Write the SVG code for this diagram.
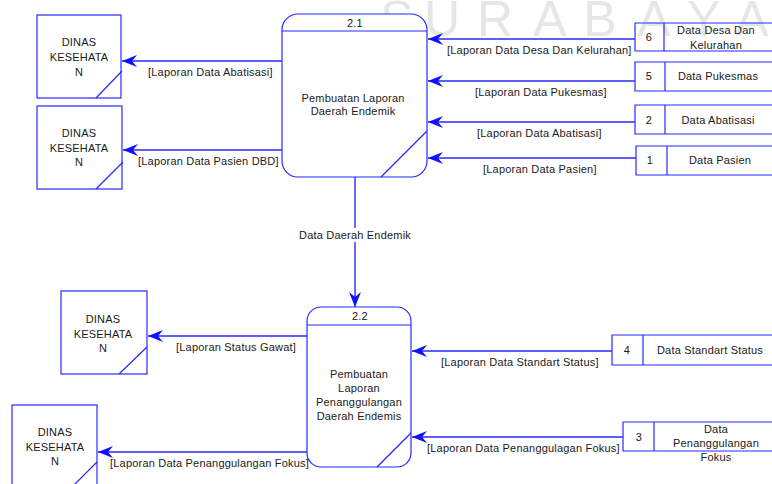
<svg xmlns="http://www.w3.org/2000/svg" width="772" height="484" viewBox="0 0 772 484">
  <style>
    .box { fill: #fff; stroke: #2828ff; stroke-width: 1.2; }
    .ln { fill: none; stroke: #2828ff; stroke-width: 1.2; }
    .flow { fill: none; stroke: #2828ff; stroke-width: 1.4; marker-end: url(#arrow); }
    text { font-family: "Liberation Sans", Arial, sans-serif; font-size: 11px; fill: #1a1a1a; letter-spacing: 0.2px; }
    .c { text-anchor: middle; }
    .wm { font-family: "Liberation Sans", Arial, sans-serif; font-size: 50px; fill: #e6e6e6; text-anchor: middle; letter-spacing: 0; }
  </style>
  <defs>
    <marker id="arrow" markerUnits="userSpaceOnUse" markerWidth="18" markerHeight="14" viewBox="-16 -7 18 14" refX="0" refY="0" orient="auto">
      <path d="M0,0 L-15,-6 L-10,0 L-15,6 Z" fill="#1010ff"/>
    </marker>
  </defs>
  <rect width="772" height="484" fill="#fff"/>

  <!-- background lettering -->
  <g id="watermark">
    <text class="wm" x="397" y="36">S</text>
    <text class="wm" x="442" y="36">U</text>
    <text class="wm" x="495" y="36">R</text>
    <text class="wm" x="550" y="36">A</text>
    <text class="wm" x="600" y="36">B</text>
    <text class="wm" x="654" y="36">A</text>
    <text class="wm" x="704" y="36">Y</text>
    <text class="wm" x="752" y="36">A</text>
  </g>

  <!-- connectors -->
  <g id="connectors">
    <line class="flow" x1="282" y1="61" x2="122" y2="61"/>
    <line class="flow" x1="282" y1="150" x2="123" y2="150"/>
    <line class="flow" x1="635" y1="39" x2="428" y2="39"/>
    <line class="flow" x1="635" y1="81" x2="428" y2="81"/>
    <line class="flow" x1="635" y1="122" x2="428" y2="122"/>
    <line class="flow" x1="636" y1="158" x2="428" y2="158"/>
    <line class="flow" x1="355" y1="177" x2="355" y2="307"/>
    <line class="flow" x1="307" y1="336" x2="148" y2="336"/>
    <line class="flow" x1="307" y1="452" x2="98" y2="452"/>
    <line class="flow" x1="612" y1="351" x2="412" y2="351"/>
    <line class="flow" x1="623" y1="437" x2="412" y2="437"/>

    <text x="148" y="76">[Laporan Data Abatisasi]</text>
    <text x="138" y="165">[Laporan Data Pasien DBD]</text>
    <text x="447" y="54">[Laporan Data Desa Dan Kelurahan]</text>
    <text x="475" y="96">[Laporan Data Pukesmas]</text>
    <text x="477" y="137">[Laporan Data Abatisasi]</text>
    <text x="483" y="173">[Laporan Data Pasien]</text>
    <rect x="297" y="228" width="116" height="14" fill="#fff"/>
    <text class="c" x="355" y="239">Data Daerah Endemik</text>
    <text x="176" y="351">[Laporan Status Gawat]</text>
    <text x="110" y="467">[Laporan Data Penanggulangan Fokus]</text>
    <text x="441" y="366">[Laporan Data Standart Status]</text>
    <text x="427" y="452">[Laporan Data Penanggulagan Fokus]</text>
  </g>

  <!-- external entities -->
  <g id="entity-dinas-1">
    <rect class="box" x="37" y="15" width="84" height="83"/>
    <line class="ln" x1="96" y1="98" x2="122" y2="71"/>
    <text class="c" x="79" y="46">DINAS</text>
    <text class="c" x="79" y="61">KESEHATA</text>
    <text class="c" x="79" y="76">N</text>
  </g>
  <g id="entity-dinas-2">
    <rect class="box" x="37" y="106" width="85" height="83"/>
    <line class="ln" x1="96" y1="189" x2="123" y2="162"/>
    <text class="c" x="79" y="137">DINAS</text>
    <text class="c" x="79" y="152">KESEHATA</text>
    <text class="c" x="79" y="166">N</text>
  </g>
  <g id="entity-dinas-3">
    <rect class="box" x="61" y="291" width="86" height="83"/>
    <line class="ln" x1="119" y1="374" x2="147" y2="347"/>
    <text class="c" x="103" y="323">DINAS</text>
    <text class="c" x="103" y="338">KESEHATA</text>
    <text class="c" x="103" y="352">N</text>
  </g>
  <g id="entity-dinas-4">
    <rect class="box" x="12" y="405" width="85" height="90"/>
    <line class="ln" x1="97" y1="462" x2="72" y2="487"/>
    <text class="c" x="55" y="436">DINAS</text>
    <text class="c" x="55" y="451">KESEHATA</text>
    <text class="c" x="55" y="465">N</text>
  </g>

  <!-- processes -->
  <g id="process-2-1">
    <rect class="box" x="282" y="14" width="145" height="163" rx="16" ry="16"/>
    <line class="ln" x1="282" y1="31" x2="427" y2="31"/>
    <line class="ln" x1="381" y1="177" x2="427" y2="131"/>
    <text class="c" x="355" y="27">2.1</text>
    <text class="c" x="353" y="102">Pembuatan Laporan</text>
    <text class="c" x="353" y="115">Daerah Endemik</text>
  </g>
  <g id="process-2-2">
    <rect class="box" x="307" y="307" width="104" height="160" rx="14" ry="14"/>
    <line class="ln" x1="307" y1="325" x2="411" y2="325"/>
    <line class="ln" x1="377" y1="467" x2="411" y2="433"/>
    <text class="c" x="360" y="320">2.2</text>
    <text class="c" x="359" y="378">Pembuatan</text>
    <text class="c" x="359" y="392">Laporan</text>
    <text class="c" x="359" y="406">Penanggulangan</text>
    <text class="c" x="359" y="420">Daerah Endemis</text>
  </g>

  <!-- data stores -->
  <g id="store-6">
    <path class="ln" d="M772,23 H635 V51 H772 M664,23 V51"/>
    <text class="c" x="649" y="41">6</text>
    <text class="c" x="716" y="34">Data Desa Dan</text>
    <text class="c" x="716" y="49">Kelurahan</text>
  </g>
  <g id="store-5">
    <path class="ln" d="M772,62 H635 V91 H772 M665,62 V91"/>
    <text class="c" x="649" y="80">5</text>
    <text class="c" x="718" y="80">Data Pukesmas</text>
  </g>
  <g id="store-2">
    <path class="ln" d="M772,105 H635 V134 H772 M665,105 V134"/>
    <text class="c" x="649" y="124">2</text>
    <text class="c" x="718" y="124">Data Abatisasi</text>
  </g>
  <g id="store-1">
    <path class="ln" d="M772,146 H636 V175 H772 M667,146 V175"/>
    <text class="c" x="650" y="164">1</text>
    <text class="c" x="720" y="164">Data Pasien</text>
  </g>
  <g id="store-4">
    <path class="ln" d="M772,335 H612 V365 H772 M643,335 V365"/>
    <text class="c" x="627" y="354">4</text>
    <text class="c" x="710" y="354">Data Standart Status</text>
  </g>
  <g id="store-3">
    <path class="ln" d="M772,422 H623 V451 H772 M654,422 V451"/>
    <text class="c" x="639" y="441">3</text>
    <text class="c" x="716" y="433">Data</text>
    <text class="c" x="716" y="447">Penanggulangan</text>
    <text class="c" x="716" y="461">Fokus</text>
  </g>
</svg>
